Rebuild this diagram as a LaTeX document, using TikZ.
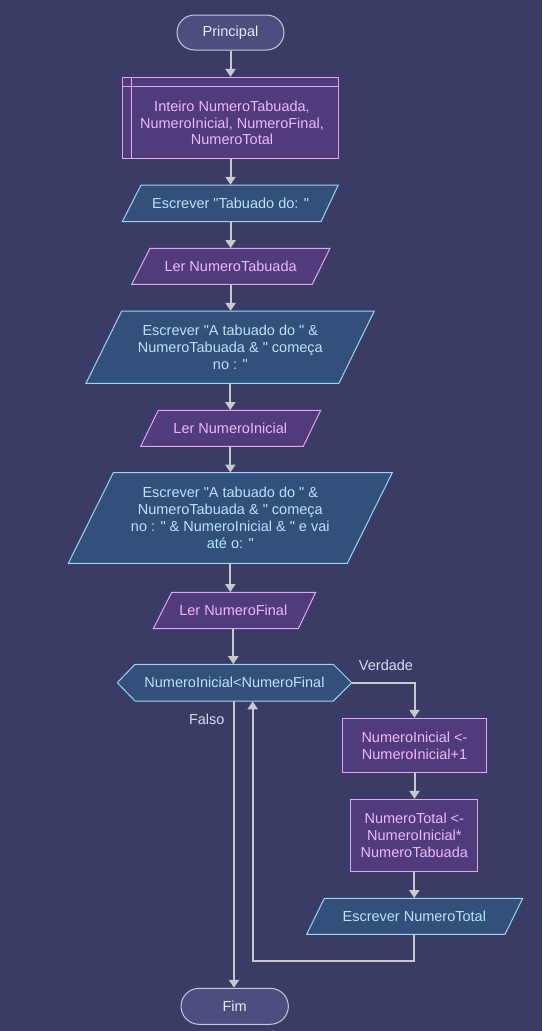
\documentclass[tikz,border=0pt]{standalone}
\usepackage{fontspec}
\setmainfont{Liberation Sans}[Ligatures=TeXOff]
\usetikzlibrary{arrows.meta}
\definecolor{cBg}{RGB}{58,60,102}
\definecolor{cTermFill}{RGB}{75,78,126}
\definecolor{cTermLine}{RGB}{200,200,215}
\definecolor{cTermText}{RGB}{232,232,242}
\definecolor{cPurpFill}{RGB}{80,60,125}
\definecolor{cPurpLine}{RGB}{228,165,240}
\definecolor{cPurpText}{RGB}{240,182,252}
\definecolor{cBlueFill}{RGB}{50,80,122}
\definecolor{cBlueLine}{RGB}{155,212,242}
\definecolor{cBlueText}{RGB}{182,228,250}
\definecolor{cArrow}{RGB}{200,200,205}
\definecolor{cLabel}{RGB}{215,222,240}
\tikzset{
  term/.style={draw=cTermLine, fill=cTermFill, text=cTermText, rounded corners=17.5pt,
    minimum width=107pt, minimum height=35pt, line width=1pt, inner sep=0pt},
  procbox/.style={draw=cPurpLine, fill=cPurpFill, text=cPurpText, line width=1pt,
    align=center, inner sep=0pt},
  purpshape/.style={draw=cPurpLine, fill=cPurpFill, line width=1pt},
  blueshape/.style={draw=cBlueLine, fill=cBlueFill, line width=1pt},
  bluelbl/.style={text=cBlueText, align=center, inner sep=0pt},
  purplbl/.style={text=cPurpText, align=center, inner sep=0pt},
  conn/.style={draw=cArrow, line width=2pt, -{Triangle[width=10pt,length=8pt]}},
  lbl/.style={text=cLabel, inner sep=0pt}
}
\begin{document}
\begin{tikzpicture}[x=1pt,y=-1pt,font=\fontsize{14.5}{16.8}\selectfont]
\fill[cBg] (0,0) rectangle (542,1031);
\useasboundingbox (0,0) rectangle (542,1031);

% shapes drawn directly
\draw[blueshape] (141,185) -- (338.3,185) -- (321,221.7) -- (122.3,221.7) -- cycle;
\draw[purpshape] (150,248.3) -- (330,248.3) -- (312.3,284.3) -- (131.7,284.3) -- cycle;
\draw[blueshape] (121.7,311) -- (374.3,311) -- (339,383.3) -- (86,383.3) -- cycle;
\draw[purpshape] (158.3,410.3) -- (320.7,410.3) -- (303.3,446.3) -- (140.7,446.3) -- cycle;
\draw[blueshape] (113.3,472.7) -- (392.3,472.7) -- (347.3,563.3) -- (68.3,563.3) -- cycle;
\draw[purpshape] (171.7,592.3) -- (315.7,592.3) -- (298.3,628.7) -- (153.3,628.7) -- cycle;
\draw[blueshape] (117.3,682.7) -- (135,664.3) -- (333.3,664.3) -- (351.7,682.7) -- (333.3,701) -- (135,701) -- cycle;
\draw[blueshape] (324.3,898.3) -- (522.7,898.3) -- (505,934.3) -- (306.7,934.3) -- cycle;

% nodes
\node[term] (start) at (230.5,32.5) {Principal};
\node[procbox, minimum width=216.4pt, minimum height=80.7pt] (vars) at (230.5,117.7) {};
\draw[draw=cPurpLine, line width=1pt] (131.3,77.3) -- (131.3,158);
\draw[draw=cPurpLine, line width=1pt] (122.3,86) -- (338.7,86);
\node[purplbl] (varstext) at (232,123) {Inteiro NumeroTabuada,\\NumeroInicial, NumeroFinal,\\NumeroTotal};

\node[bluelbl, minimum width=180pt, minimum height=36.7pt] (e1) at (230.6,203.3) {Escrever "Tabuado do: "};
\node[purplbl, minimum width=170pt, minimum height=36pt] (l1) at (230.6,266.3) {Ler NumeroTabuada};
\node[bluelbl, minimum width=200pt, minimum height=72.3pt] (e2) at (230.3,347.2) {Escrever "A tabuado do " \&\\NumeroTabuada \& " começa\\no : "};
\node[purplbl, minimum width=150pt, minimum height=36pt] (l2) at (230.3,428.3) {Ler NumeroInicial};
\node[bluelbl, minimum width=200pt, minimum height=90.6pt] (e3) at (230.3,518) {Escrever "A tabuado do " \&\\NumeroTabuada \& " começa\\no : " \& NumeroInicial \& " e vai\\até o: "};
\node[purplbl, minimum width=130pt, minimum height=36.4pt] (l3) at (233.3,610.5) {Ler NumeroFinal};
\node[bluelbl, minimum width=198pt, minimum height=36.7pt] (dec) at (234.5,682.7) {NumeroInicial<NumeroFinal};
\coordinate (decE) at (351.7,682.7);

\node[procbox, minimum width=144.4pt, minimum height=54.4pt] (boxA) at (414.5,745.5) {NumeroInicial <-\\NumeroInicial+1};
\node[procbox, minimum width=126.7pt, minimum height=71.7pt] (boxB) at (414.3,835.2) {NumeroTotal <-\\NumeroInicial*\\NumeroTabuada};
\node[bluelbl, minimum width=180pt, minimum height=36pt] (e4) at (414.3,916.3) {Escrever NumeroTotal};
\node[term, minimum width=107.3pt, minimum height=36pt, rounded corners=18pt] (fim) at (234.7,1006.3) {Fim};

\node[lbl] (vlab) at (386,665) {Verdade};
\node[lbl] (flab) at (206.8,719) {Falso};

% connectors
\draw[conn] (start.south) -- (start.south |- vars.north);
\draw[conn] (vars.south) -- (vars.south |- e1.north);
\draw[conn] (e1.south) -- (e1.south |- l1.north);
\draw[conn] (l1.south) -- (l1.south |- e2.north);
\draw[conn] (e2.south) -- (e2.south |- l2.north);
\draw[conn] (l2.south) -- (l2.south |- e3.north);
\draw[conn] (e3.south) -- (e3.south |- l3.north);
\draw[conn] (l3.south) -- (l3.south |- dec.north);
\draw[conn] (decE) -| (boxA.north);
\draw[conn] (boxA.south) -- (boxA.south |- boxB.north);
\draw[conn] (boxB.south) -- (boxB.south |- e4.north);
\coordinate (loopB) at (252.7,961);
\draw[conn] (e4.south) |- (loopB) -- (loopB |- dec.south);
\draw[conn] ([xshift=-0.5pt]dec.south) -- ([xshift=-0.5pt]dec.south |- fim.north);
\end{tikzpicture}
\end{document}
